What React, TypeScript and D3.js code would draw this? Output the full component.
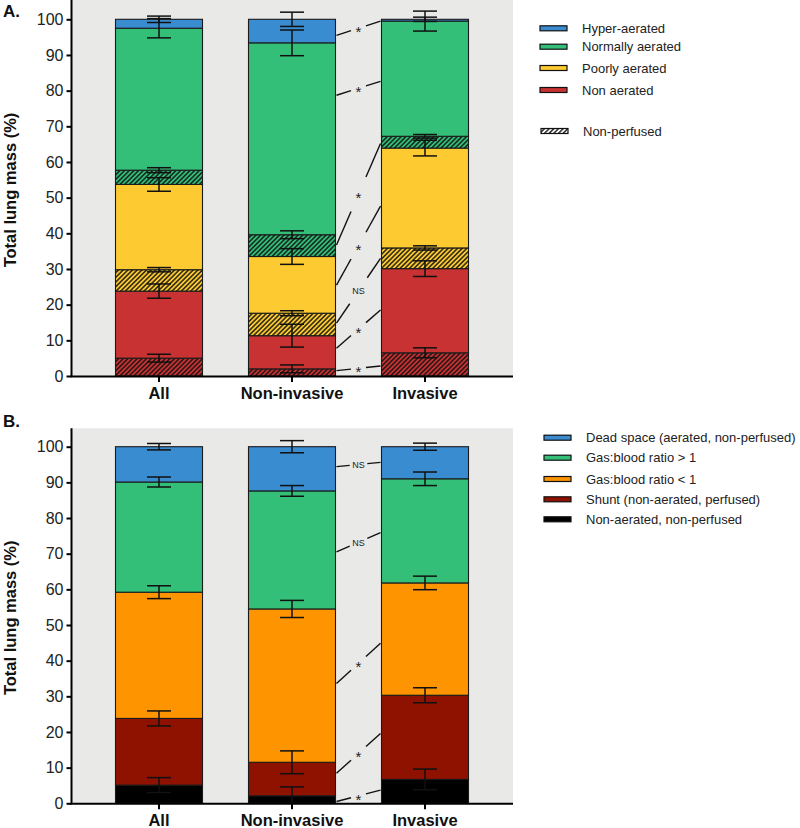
import { useRef, useEffect } from 'react';
import * as d3 from 'd3';

const categories = ['All', 'Non-invasive', 'Invasive'];
const yTicks = [0, 10, 20, 30, 40, 50, 60, 70, 80, 90, 100];

// Panel A: aeration compartments, stacked bottom -> top
const aerationKeys = ['nonAeratedNP', 'nonAerated', 'poorlyNP', 'poorly', 'normallyNP', 'normally', 'hyper'];
const aerationAll = [5.0, 18.8, 6.0, 23.9, 4.0, 39.8, 2.5];
const aerationNonInvasive = [2.0, 9.3, 6.3, 15.9, 6.1, 53.8, 6.6];
const aerationInvasive = [6.5, 23.6, 5.8, 28.0, 3.3, 32.3, 0.5];
const aerationErrAll = [1.1, 2.0, 0.6, 1.9, 0.7, 2.7, 0.9];
const aerationErrNonInvasive = [1.1, 3.2, 0.7, 2.2, 1.1, 3.6, 2.0];
const aerationErrInvasive = [1.4, 2.2, 0.6, 2.2, 0.5, 2.8, 0.6];
const aerationColors = ['#c93232', '#c93232', '#fdca31', '#fdca31', '#33bf78', '#33bf78', '#3a8cd0'];
const aerationHatched = [true, false, true, false, true, false, false];
const aerationLegend = ['Hyper-aerated', 'Normally aerated', 'Poorly aerated', 'Non aerated'];
const aerationLegendColors = ['#3a8cd0', '#33bf78', '#fdca31', '#c93232'];
// [left value, right value, label]
const aerationConnectors: [number, number, string][] = [
    [95.5, 99.5, '*'],
    [78.7, 82.6, '*'],
    [36.7, 65.2, '*'],
    [25.5, 47.6, '*'],
    [14.8, 33.0, 'NS'],
    [7.8, 18.5, '*'],
    [1.5, 2.8, '*'],
];

// Panel B: ventilation/perfusion compartments, stacked bottom -> top
const vqKeys = ['nonAeratedNP', 'shunt', 'lowRatio', 'highRatio', 'deadSpace'];
const vqAll = [5.1, 18.7, 35.4, 30.9, 9.9];
const vqNonInvasive = [2.1, 9.4, 43.0, 33.1, 12.4];
const vqInvasive = [6.7, 23.6, 31.5, 29.2, 9.0];
const vqErrAll = [2.1, 2.1, 1.8, 1.4, 0.9];
const vqErrNonInvasive = [2.5, 3.2, 2.4, 1.5, 1.7];
const vqErrInvasive = [2.9, 2.1, 1.9, 1.9, 1.0];
const vqColors = ['#000000', '#8f1200', '#fd9400', '#33bf78', '#3a8cd0'];
const vqLegend = [
    'Dead space (aerated, non-perfused)',
    'Gas:blood ratio > 1',
    'Gas:blood ratio < 1',
    'Shunt (non-aerated, perfused)',
    'Non-aerated, non-perfused',
];
const vqLegendColors = ['#3a8cd0', '#33bf78', '#fd9400', '#8f1200', '#000000'];
const vqConnectors: [number, number, string][] = [
    [94.4, 95.6, 'NS'],
    [70.5, 75.9, 'NS'],
    [33.6, 44.9, '*'],
    [8.4, 19.6, '*'],
    [0.5, 3.7, '*'],
];

const FONT = '"Liberation Sans", Arial, sans-serif';

interface PanelConfig {
    id: string;
    letter: string;
    top: number;      // top of grey plot background
    zeroY: number;    // pixel of 0 %
    hundredY: number; // pixel of 100 %
    keys: string[];
    values: number[][];
    errors: number[][];
    colors: string[];
    hatched: boolean[];
    connectors: [number, number, string][];
    legend: string[];
    legendColors: string[];
    legendX: number;
    legendRows: number[];
    legendTextX: number;
    hatchLegendY?: number;
}

function drawPanel(svg: d3.Selection<SVGSVGElement, unknown, null, undefined>, cfg: PanelConfig) {
    const left = 72;
    const right = 513;
    const barWidth = 87;

    const x = d3.scalePoint<string>().domain(categories).range([159, 425]);
    const y = d3.scaleLinear().domain([0, 100]).range([cfg.zeroY, cfg.hundredY]);

    const g = svg.append('g');
    const defs = svg.select('defs');

    // hatch patterns, one per colour
    cfg.colors.forEach((c, i) => {
        if (!cfg.hatched[i]) return;
        const p = defs.append('pattern')
            .attr('id', `${cfg.id}-hatch-${i}`)
            .attr('patternUnits', 'userSpaceOnUse')
            .attr('width', 3.3)
            .attr('height', 3.3)
            .attr('patternTransform', 'rotate(45)');
        p.append('rect').attr('width', 3.3).attr('height', 3.3).attr('fill', c);
        p.append('line')
            .attr('x1', 0.8).attr('y1', 0).attr('x2', 0.8).attr('y2', 3.3)
            .attr('stroke', '#111').attr('stroke-width', 1.35);
    });

    // grey plot background
    g.append('rect')
        .attr('x', left)
        .attr('y', cfg.top)
        .attr('width', right - left)
        .attr('height', cfg.zeroY - cfg.top)
        .attr('fill', '#e9e9e8');

    // stacked bars
    const rows = categories.map((c, ci) => {
        const row: Record<string, number | string> = { category: c };
        cfg.keys.forEach((k, ki) => { row[k] = cfg.values[ci][ki]; });
        return row;
    });
    const series = d3.stack<Record<string, number | string>>().keys(cfg.keys)(rows);

    series.forEach((s, ki) => {
        g.append('g')
            .selectAll('rect')
            .data(s)
            .enter()
            .append('rect')
            .attr('x', d => (x(d.data.category as string) as number) - barWidth / 2)
            .attr('y', d => y(d[1]))
            .attr('width', barWidth)
            .attr('height', d => y(d[0]) - y(d[1]))
            .attr('fill', cfg.hatched[ki] ? `url(#${cfg.id}-hatch-${ki})` : cfg.colors[ki])
            .attr('stroke', '#1a1a1a')
            .attr('stroke-width', 1.1);
    });

    // error bars at each cumulative top
    categories.forEach((c, ci) => {
        const cx = x(c) as number;
        let cum = 0;
        cfg.values[ci].forEach((v, ki) => {
            cum += v;
            const e = cfg.errors[ci][ki];
            const lo = Math.max(0, cum - e);
            const hi = cum + e;
            const eg = g.append('g').attr('stroke', '#111').attr('stroke-width', 1.5);
            eg.append('line').attr('x1', cx).attr('x2', cx).attr('y1', y(lo)).attr('y2', y(hi));
            eg.append('line').attr('x1', cx - 12).attr('x2', cx + 12).attr('y1', y(hi)).attr('y2', y(hi));
            if (cum - e > 0) {
                eg.append('line').attr('x1', cx - 12).attr('x2', cx + 12).attr('y1', y(lo)).attr('y2', y(lo));
            }
        });
    });

    // connectors between Non-invasive and Invasive
    const x0 = (x('Non-invasive') as number) + barWidth / 2 + 1;
    const x1 = (x('Invasive') as number) - barWidth / 2 - 1;
    cfg.connectors.forEach(([lv, rv, label]) => {
        const ya = y(lv);
        const yb = y(rv);
        const at = (t: number) => [x0 + (x1 - x0) * t, ya + (yb - ya) * t];
        const gap = label === 'NS' ? 0.3 : 0.33;
        [[0, gap], [1 - gap, 1]].forEach(([t0, t1]) => {
            const [ax, ay] = at(t0);
            const [bx, by] = at(t1);
            g.append('line')
                .attr('x1', ax).attr('y1', ay).attr('x2', bx).attr('y2', by)
                .attr('stroke', '#111').attr('stroke-width', 1.4);
        });
        const [mx, my] = at(0.5);
        g.append('text')
            .attr('x', mx)
            .attr('y', label === 'NS' ? my + 3.3 : my + 9)
            .attr('text-anchor', 'middle')
            .attr('font-family', FONT)
            .attr('font-size', label === 'NS' ? 9 : 15)
            .attr('fill', '#222')
            .text(label);
    });

    // y axis
    const yAxis = g.append('g')
        .attr('transform', `translate(${left - 0.5},0)`)
        .call(d3.axisLeft(y).tickValues(yTicks).tickSize(5).tickPadding(3).tickSizeOuter(0));
    yAxis.select('.domain').remove();
    yAxis.selectAll('.tick line').attr('stroke', '#000').attr('stroke-width', 2);
    yAxis.selectAll('.tick text')
        .attr('fill', '#222')
        .attr('font-family', FONT)
        .attr('font-size', 16);

    g.append('line')
        .attr('x1', left - 0.5).attr('x2', left - 0.5)
        .attr('y1', cfg.top).attr('y2', cfg.zeroY + 1)
        .attr('stroke', '#000').attr('stroke-width', 2);

    // x axis
    g.append('line')
        .attr('x1', left - 1.5).attr('x2', right)
        .attr('y1', cfg.zeroY + 0.5).attr('y2', cfg.zeroY + 0.5)
        .attr('stroke', '#000').attr('stroke-width', 2);
    g.append('g')
        .selectAll('line')
        .data(categories)
        .enter()
        .append('line')
        .attr('x1', d => x(d) as number).attr('x2', d => x(d) as number)
        .attr('y1', cfg.zeroY).attr('y2', cfg.zeroY + 6)
        .attr('stroke', '#000').attr('stroke-width', 2);
    g.append('g')
        .selectAll('text')
        .data(categories)
        .enter()
        .append('text')
        .attr('x', d => x(d) as number)
        .attr('y', cfg.zeroY + 23)
        .attr('text-anchor', 'middle')
        .attr('font-family', FONT)
        .attr('font-weight', 'bold')
        .attr('font-size', 16.5)
        .attr('fill', '#111')
        .text(d => d);

    // y title
    const midY = (cfg.top + cfg.zeroY) / 2 + 2;
    g.append('text')
        .attr('transform', `translate(16,${midY}) rotate(-90)`)
        .attr('text-anchor', 'middle')
        .attr('font-family', FONT)
        .attr('font-weight', 'bold')
        .attr('font-size', 16.5)
        .attr('fill', '#111')
        .text('Total lung mass (%)');

    // panel letter
    g.append('text')
        .attr('x', 3)
        .attr('y', cfg.top === 0 ? 17 : cfg.top - 1)
        .attr('font-family', FONT)
        .attr('font-weight', 'bold')
        .attr('font-size', 17)
        .attr('fill', '#111')
        .text(cfg.letter);

    // legend
    const lg = g.append('g');
    cfg.legend.forEach((name, i) => {
        const ly = cfg.legendRows[i];
        lg.append('rect')
            .attr('x', cfg.legendX).attr('y', ly - 2.5)
            .attr('width', 27).attr('height', 5)
            .attr('fill', cfg.legendColors[i])
            .attr('stroke', '#111').attr('stroke-width', 1.2);
        lg.append('text')
            .attr('x', cfg.legendTextX).attr('y', ly + 4.5)
            .attr('font-family', FONT)
            .attr('font-size', 13)
            .attr('fill', '#222')
            .text(name);
    });
    if (cfg.hatchLegendY !== undefined) {
        const p = defs.append('pattern')
            .attr('id', `${cfg.id}-hatch-legend`)
            .attr('patternUnits', 'userSpaceOnUse')
            .attr('width', 3.3).attr('height', 3.3)
            .attr('patternTransform', 'rotate(45)');
        p.append('rect').attr('width', 3.3).attr('height', 3.3).attr('fill', '#fff');
        p.append('line')
            .attr('x1', 0.8).attr('y1', 0).attr('x2', 0.8).attr('y2', 3.3)
            .attr('stroke', '#111').attr('stroke-width', 1.35);
        lg.append('rect')
            .attr('x', cfg.legendX + 1).attr('y', cfg.hatchLegendY - 2.5)
            .attr('width', 27).attr('height', 5)
            .attr('fill', `url(#${cfg.id}-hatch-legend)`)
            .attr('stroke', '#111').attr('stroke-width', 1.2);
        lg.append('text')
            .attr('x', cfg.legendTextX + 1).attr('y', cfg.hatchLegendY + 4.5)
            .attr('font-family', FONT)
            .attr('font-size', 13)
            .attr('fill', '#222')
            .text('Non-perfused');
    }
}

export default function App() {
    const svgRef = useRef<SVGSVGElement>(null);

    useEffect(() => {
        if (!svgRef.current) return;
        const svg = d3.select(svgRef.current);
        svg.selectAll('*').remove();
        svg.append('defs');

        drawPanel(svg, {
            id: 'a',
            letter: 'A.',
            top: 0,
            zeroY: 376,
            hundredY: 19.3,
            keys: aerationKeys,
            values: [aerationAll, aerationNonInvasive, aerationInvasive],
            errors: [aerationErrAll, aerationErrNonInvasive, aerationErrInvasive],
            colors: aerationColors,
            hatched: aerationHatched,
            connectors: aerationConnectors,
            legend: aerationLegend,
            legendColors: aerationLegendColors,
            legendX: 540,
            legendRows: [28.3, 46.7, 68, 90],
            legendTextX: 582,
            hatchLegendY: 131,
        });

        drawPanel(svg, {
            id: 'b',
            letter: 'B.',
            top: 428.3,
            zeroY: 803.3,
            hundredY: 446.7,
            keys: vqKeys,
            values: [vqAll, vqNonInvasive, vqInvasive],
            errors: [vqErrAll, vqErrNonInvasive, vqErrInvasive],
            colors: vqColors,
            hatched: vqColors.map(() => false),
            connectors: vqConnectors,
            legend: vqLegend,
            legendColors: vqLegendColors,
            legendX: 544,
            legendRows: [437.7, 457.7, 479, 499.3, 519.3],
            legendTextX: 586,
        });
    }, []);

    return (
        <div style={{ position: 'absolute', left: 0, top: 0, width: 800, height: 828, background: '#fff' }}>
            <svg ref={svgRef} width={800} height={828}></svg>
        </div>
    );
}
